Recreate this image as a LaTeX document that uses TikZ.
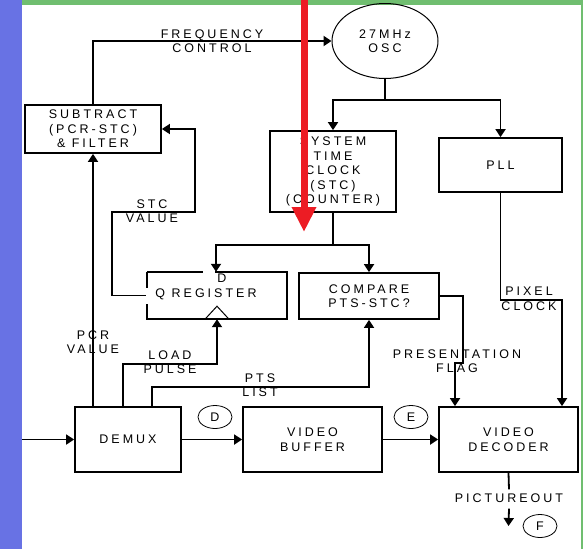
\documentclass[tikz,border=0pt]{standalone}
\usepackage{fontspec}
\setmainfont{Liberation Sans}[LetterSpace=24]
\usetikzlibrary{arrows.meta, positioning, shapes.geometric}

\definecolor{barblue}{RGB}{104,114,228}
\definecolor{bargreen}{RGB}{112,190,112}
\definecolor{markred}{RGB}{236,28,36}

\begin{document}
\begin{tikzpicture}[x=1pt, y=-1pt,
    block/.style={draw, line width=1.8pt, align=center, inner sep=0pt},
    tag/.style={ellipse, draw, line width=0.8pt, minimum width=34pt, minimum height=23pt, inner sep=0pt},
    lbl/.style={align=center, inner sep=0pt},
    link/.style={line width=1.8pt},
    arr/.style={line width=1.8pt, -{Triangle[length=8pt, width=10pt]}},
    font=\fontsize{12.5}{14.5}\selectfont
]
\useasboundingbox (0,0) rectangle (583,549);

% Rahmen
\fill[barblue] (0,0) rectangle (22,549);
\fill[bargreen] (22,0) rectangle (583,5);
\fill[bargreen] (581,0) rectangle (583,549);

% Bloecke
\node[block, minimum width=136pt, minimum height=48pt] (sub) at (93,129) {SUBTRACT\\(PCR-STC)\\\& FILTER};
\node[ellipse, draw, line width=1pt, minimum width=106pt, minimum height=75pt, align=center, inner sep=0pt] (osc) at (385,41) {27MHz\\OSC};
\node[block, minimum width=126pt, minimum height=81pt] (stc) at (333,171.5) {SYSTEM\\TIME\\CLOCK\\(STC)\\(COUNTER)};
\node[block, minimum width=123pt, minimum height=54pt] (pll) at (500.5,165) {PLL};
\node[minimum width=140pt, minimum height=47pt, inner sep=0pt] (reg) at (217,295.5) {};
\node[block, minimum width=140pt, minimum height=46pt] (cmp) at (369,296) {COMPARE\\PTS-STC?};
\node[block, minimum width=106pt, minimum height=65pt] (demux) at (128,439.5) {DEMUX};
\node[block, minimum width=139pt, minimum height=65pt] (buf) at (312.5,439.5) {VIDEO\\BUFFER};
\node[block, minimum width=139pt, minimum height=65pt] (dec) at (508.5,439.5) {VIDEO\\DECODER};

% Register mit Luecken
\draw[link] (reg.north west) -- ([xshift=-14pt]reg.north);
\draw[link] ([xshift=-2pt]reg.north) -- (reg.north east) |- (reg.south west) -- ([yshift=-8pt]reg.west);
\draw[link] ([yshift=8pt]reg.west) -- (reg.north west);
\draw[line width=1pt] ([xshift=-12pt]reg.south) -- ([yshift=13pt]reg.south) -- ([xshift=12pt]reg.south);
\node[lbl] at (222,278) {D};
\node[lbl] at (206,294) {Q REGISTER};

% Kennzeichen
\node[tag] (tagd) at (215,417) {D};
\node[tag] (tage) at (411,417) {E};
\node[tag] (tagf) at (540,526) {F};

% Hilfspunkte
\coordinate (oscj) at (385,100);
\coordinate (stcj) at (333,245);
\coordinate (pxl) at (562,300);
\coordinate (q1) at (112,212);
\coordinate (q2) at (195,212);
\coordinate (ld) at (123,364);
\coordinate (pts) at (152,387);
\coordinate (fl1) at (463,363);
\coordinate (fl2) at (455,363);
\coordinate (in) at (22,439.5);
\coordinate (outend) at (508.5,526);

% Verbindungen
\draw[arr] (sub.north) |- (osc.west);
\draw[link] (osc.south) -- (oscj);
\draw[arr] (oscj) -| (stc.north);
\draw[arr] (oscj) -| (pll.north);
\draw[arr] (pll.south) |- (pxl) -- (pxl |- dec.north);
\draw[link] (stc.south) -- (stcj);
\draw[arr] (stcj) -| ([xshift=-1pt]reg.north);
\draw[arr] (stcj) -| (cmp.north);
\draw[arr] ([xshift=-1pt]reg.west) -- (reg.west -| q1) -- (q1) -- (q2) |- (sub.east);
\draw[arr] (sub.south |- demux.north) -- (sub.south);
\draw[arr] (ld |- demux.north) -- (ld) -| (reg.south);
\draw[arr] (pts |- demux.north) -- (pts) -| (cmp.south);
\draw[arr] (cmp.east) -| (fl1) -- (fl2) -- (fl2 |- dec.north);
\draw[arr] (in) -- (demux.west);
\draw[arr] (demux.east) -- (buf.west);
\draw[arr] (buf.east) -- (dec.west);

% Beschriftungen
\node[lbl] at (212,41) {FREQUENCY\\CONTROL};
\node[lbl] at (152,211) {STC\\VALUE};
\node[lbl] at (93,342) {PCR\\VALUE};
\node[lbl] at (170,362) {LOAD\\PULSE};
\node[lbl] at (260,385) {PTS\\LIST};
\node[lbl] at (457,361) {PRESENTATION\\FLAG};
\node[lbl] at (529,299) {PIXEL\\CLOCK};
\node[lbl] (pout) at (509,498) {PICTUREOUT};
\draw[link] (dec.south) -- ([yshift=4pt]pout.north);
\draw[arr] ([yshift=-6pt]pout.south) -- (outend);

% Markierung
\draw[markred, line width=7pt, -{Triangle[length=25pt, width=23pt]}] (304,0) -- (304,232);

\end{tikzpicture}
\end{document}
